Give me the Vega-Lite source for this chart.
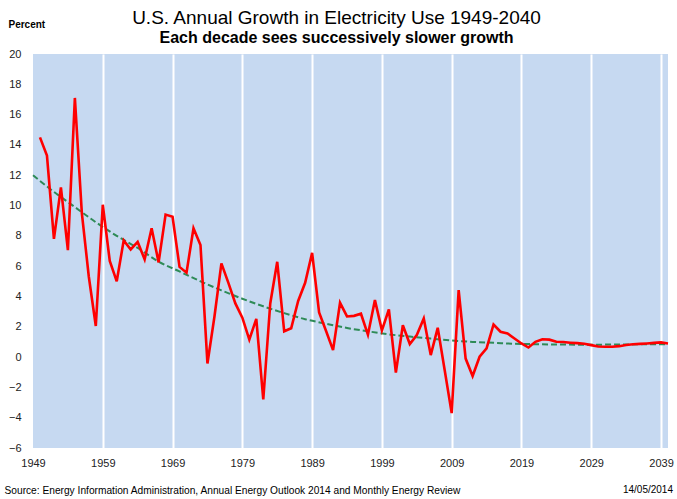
{
  "$schema": "https://vega.github.io/schema/vega-lite/v6.json",
  "width": 635,
  "height": 394,
  "autosize": {"type": "none"},
  "padding": {"left": 33, "top": 54, "right": 9, "bottom": 51},
  "background": "white",
  "title": {
    "text": "U.S. Annual Growth in Electricity Use 1949-2040",
    "subtitle": "Each decade sees successively slower growth",
    "anchor": "middle",
    "frame": "group",
    "dx": -14,
    "dy": 27,
    "font": "Liberation Sans",
    "subtitleFont": "Liberation Sans",
    "fontSize": 19,
    "fontWeight": "normal",
    "subtitleFontSize": 16,
    "subtitleFontWeight": "bold",
    "color": "#000000",
    "subtitleColor": "#000000",
    "offset": 0,
    "subtitlePadding": 2
  },
  "config": {
    "view": {"fill": "#C6D9F1", "stroke": null},
    "font": "Liberation Sans",
    "axisY": {"labelOverlap": false, "labelFlush": false, "labelBound": false},
    "axisX": {"labelOverlap": false, "labelFlush": false}
  },
  "datasets": {
    "growth": [
      {"year": 1950, "pct": 14.5}, {"year": 1951, "pct": 13.3}, {"year": 1952, "pct": 7.8}, {"year": 1953, "pct": 11.2},
      {"year": 1954, "pct": 7.06}, {"year": 1955, "pct": 17.1}, {"year": 1956, "pct": 9.5}, {"year": 1957, "pct": 5.3},
      {"year": 1958, "pct": 2.05}, {"year": 1959, "pct": 10.05}, {"year": 1960, "pct": 6.35}, {"year": 1961, "pct": 5.0},
      {"year": 1962, "pct": 7.7}, {"year": 1963, "pct": 7.1}, {"year": 1964, "pct": 7.6}, {"year": 1965, "pct": 6.45},
      {"year": 1966, "pct": 8.5}, {"year": 1967, "pct": 6.25}, {"year": 1968, "pct": 9.4}, {"year": 1969, "pct": 9.26},
      {"year": 1970, "pct": 5.95}, {"year": 1971, "pct": 5.57}, {"year": 1972, "pct": 8.5}, {"year": 1973, "pct": 7.4},
      {"year": 1974, "pct": -0.42}, {"year": 1975, "pct": 2.66}, {"year": 1976, "pct": 6.18}, {"year": 1977, "pct": 4.9},
      {"year": 1978, "pct": 3.54}, {"year": 1979, "pct": 2.6}, {"year": 1980, "pct": 1.15}, {"year": 1981, "pct": 2.52},
      {"year": 1982, "pct": -2.8}, {"year": 1983, "pct": 3.54}, {"year": 1984, "pct": 6.29}, {"year": 1985, "pct": 1.7},
      {"year": 1986, "pct": 1.9}, {"year": 1987, "pct": 3.7}, {"year": 1988, "pct": 4.9}, {"year": 1989, "pct": 6.88},
      {"year": 1990, "pct": 2.95}, {"year": 1991, "pct": 1.72}, {"year": 1992, "pct": 0.46}, {"year": 1993, "pct": 3.58},
      {"year": 1994, "pct": 2.68}, {"year": 1995, "pct": 2.72}, {"year": 1996, "pct": 2.86}, {"year": 1997, "pct": 1.47},
      {"year": 1998, "pct": 3.76}, {"year": 1999, "pct": 1.76}, {"year": 2000, "pct": 3.15}, {"year": 2001, "pct": -1.03},
      {"year": 2002, "pct": 2.1}, {"year": 2003, "pct": 0.86}, {"year": 2004, "pct": 1.45}, {"year": 2005, "pct": 2.55},
      {"year": 2006, "pct": 0.13}, {"year": 2007, "pct": 1.93}, {"year": 2008, "pct": -0.87}, {"year": 2009, "pct": -3.7},
      {"year": 2010, "pct": 4.42}, {"year": 2011, "pct": -0.1}, {"year": 2012, "pct": -1.25}, {"year": 2013, "pct": 0.02},
      {"year": 2014, "pct": 0.57}, {"year": 2015, "pct": 2.15}, {"year": 2016, "pct": 1.67}, {"year": 2017, "pct": 1.56},
      {"year": 2018, "pct": 1.23}, {"year": 2019, "pct": 0.9}, {"year": 2020, "pct": 0.63}, {"year": 2021, "pct": 1.01},
      {"year": 2022, "pct": 1.18}, {"year": 2023, "pct": 1.15}, {"year": 2024, "pct": 1.01}, {"year": 2025, "pct": 0.99},
      {"year": 2026, "pct": 0.95}, {"year": 2027, "pct": 0.92}, {"year": 2028, "pct": 0.88}, {"year": 2029, "pct": 0.79},
      {"year": 2030, "pct": 0.7}, {"year": 2031, "pct": 0.68}, {"year": 2032, "pct": 0.68}, {"year": 2033, "pct": 0.72},
      {"year": 2034, "pct": 0.8}, {"year": 2035, "pct": 0.85}, {"year": 2036, "pct": 0.87}, {"year": 2037, "pct": 0.9},
      {"year": 2038, "pct": 0.94}, {"year": 2039, "pct": 0.97}, {"year": 2040, "pct": 0.9}
    ],
    "trend": [
      {"year": 1949, "pct": 12.0}, {"year": 1952, "pct": 10.9}, {"year": 1955, "pct": 9.9}, {"year": 1958, "pct": 8.9},
      {"year": 1961, "pct": 8.0}, {"year": 1964, "pct": 7.2}, {"year": 1967, "pct": 6.3}, {"year": 1970, "pct": 5.65},
      {"year": 1973, "pct": 5.0}, {"year": 1976, "pct": 4.4}, {"year": 1979, "pct": 3.85}, {"year": 1982, "pct": 3.35},
      {"year": 1985, "pct": 2.9}, {"year": 1988, "pct": 2.5}, {"year": 1991, "pct": 2.2}, {"year": 1994, "pct": 1.92},
      {"year": 1997, "pct": 1.7}, {"year": 2000, "pct": 1.5}, {"year": 2003, "pct": 1.35}, {"year": 2006, "pct": 1.22},
      {"year": 2009, "pct": 1.1}, {"year": 2012, "pct": 1.0}, {"year": 2015, "pct": 0.94}, {"year": 2018, "pct": 0.88},
      {"year": 2021, "pct": 0.85}, {"year": 2024, "pct": 0.83}, {"year": 2027, "pct": 0.82}, {"year": 2030, "pct": 0.82},
      {"year": 2033, "pct": 0.83}, {"year": 2036, "pct": 0.84}, {"year": 2040, "pct": 0.85}
    ],
    "footer": [{"label": "14/05/2014"}]
  },
  "layer": [
    {
      "data": {"name": "trend"},
      "mark": {"type": "line", "color": "#2E8B57", "strokeWidth": 2, "strokeDash": [6, 3], "interpolate": "monotone"},
      "encoding": {
        "x": {
          "field": "year", "type": "quantitative",
          "scale": {"domain": [1949, 2040], "nice": false, "zero": false},
          "axis": {
            "title": "Source: Energy Information Administration, Annual Energy Outlook 2014 and Monthly Energy Review",
            "titleX": -29, "titleY": 42, "titleAlign": "left", "titleAnchor": "start", "titleBaseline": "middle",
            "titleFontSize": 10.2, "titleFontWeight": "normal", "titleColor": "#000000",
            "values": [1949, 1959, 1969, 1979, 1989, 1999, 2009, 2019, 2029, 2039],
            "format": "d",
            "labelFlush": false, "labelOverlap": false,
            "grid": true, "gridColor": "#FFFFFF", "gridWidth": 2,
            "gridOpacity": {"condition": {"test": "datum.value == 1949", "value": 0}, "value": 1},
            "domain": false, "ticks": false,
            "labelPadding": 9, "labelFontSize": 11, "labelColor": "#222222"
          }
        },
        "y": {
          "field": "pct", "type": "quantitative",
          "scale": {"domain": [-6, 20], "nice": false},
          "axis": {
            "title": "Percent", "titleAngle": 0, "titleX": -25, "titleY": -30, "titleAlign": "left",
            "titleBaseline": "middle", "titleFontSize": 10, "titleFontWeight": "bold", "titleColor": "#000000",
            "values": [-6, -4, -2, 0, 2, 4, 6, 8, 10, 12, 14, 16, 18, 20],
            "tickCount": 14,
            "labelOverlap": false, "labelFlush": false,
            "grid": false, "domain": false, "ticks": false,
            "labelPadding": 12, "labelFontSize": 11, "labelColor": "#222222"
          }
        }
      }
    },
    {
      "data": {"name": "growth"},
      "mark": {"type": "line", "color": "#FF0000", "strokeWidth": 2.6},
      "encoding": {
        "x": {"field": "year", "type": "quantitative"},
        "y": {"field": "pct", "type": "quantitative"}
      }
    },
    {
      "data": {"name": "footer"},
      "mark": {"type": "text", "align": "right", "baseline": "middle", "dx": 5, "dy": 42, "fontSize": 10, "color": "#000000"},
      "encoding": {
        "x": {"datum": 2040, "type": "quantitative"},
        "y": {"datum": -6, "type": "quantitative"},
        "text": {"field": "label"}
      }
    }
  ]
}
